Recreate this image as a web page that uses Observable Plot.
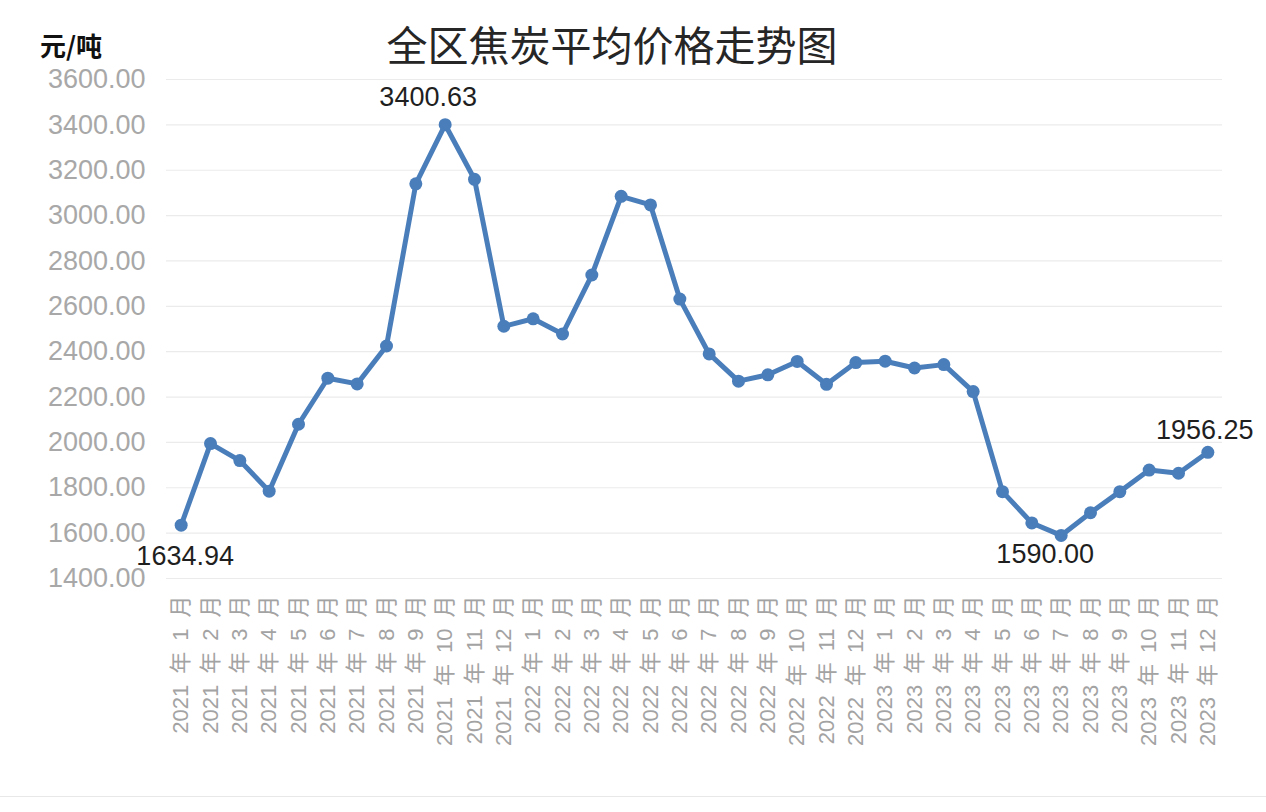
<!DOCTYPE html>
<html>
<head>
<meta charset="utf-8">
<script src="https://cdn.jsdelivr.net/npm/d3@7"></script>
<script src="https://cdn.jsdelivr.net/npm/@observablehq/plot@0.6"></script>
<style>
  html, body { margin: 0; padding: 0; background: #ffffff; }
  #wrap { position: relative; width: 1266px; height: 812px; overflow: hidden;
    font-family: "Liberation Sans", "Noto Sans CJK SC", sans-serif; }
  #title { position: absolute; left: 0; width: 1224px; top: 23px; text-align: center;
    font-size: 41px; line-height: 40px; color: #262626;
    font-family: "Noto Sans CJK SC", sans-serif; }
  #unit { position: absolute; left: 40px; top: 32px; font-size: 26px; line-height: 26px;
    font-weight: bold; color: #111; font-family: "Noto Sans CJK SC", sans-serif; }
  #chart { position: absolute; left: 0; top: 0; }
  #foot { position: absolute; left: 0; top: 796px; width: 1266px; height: 1px; background: #e8e8e8; }
</style>
</head>
<body>
<div id="wrap">
  <div id="chart"></div>
  <div id="title">全区焦炭平均价格走势图</div>
  <div id="unit">元/吨</div>
  <div id="foot"></div>
</div>
<script>
const years = ["2021", "2022", "2023"];
const months = [1, 2, 3, 4, 5, 6, 7, 8, 9, 10, 11, 12];
const prices2021 = [1634.94, 1995, 1920, 1785, 2080, 2283, 2258, 2425, 3140, 3400.63, 3160, 2512];
const prices2022 = [2545, 2478, 2738, 3085, 3047, 2632, 2390, 2270, 2298, 2357, 2256, 2352];
const prices2023 = [2358, 2328, 2343, 2224, 1783, 1645, 1590.00, 1690, 1783, 1878, 1864, 1956.25];
const yTicks = [1400, 1600, 1800, 2000, 2200, 2400, 2600, 2800, 3000, 3200, 3400, 3600];
const labelledMonths = ["2021-1", "2021-10", "2023-7", "2023-12"];

const priceByYear = [prices2021, prices2022, prices2023];
const labels = [];
const data = [];
years.forEach((y, yi) => {
  months.forEach((m, mi) => {
    const label = `${y}\u2002年\u2002${m}\u2002月`;
    labels.push(label);
    data.push({key: `${y}-${m}`, label, value: priceByYear[yi][mi]});
  });
});

const color = "#4a7ebb";
const find = k => data.filter(d => d.key === k);
const textStyle = {x: "label", y: "value", text: d => d.value.toFixed(2), fontSize: 27, fill: "#1f1f1f"};

const chart = Plot.plot({
  width: 1266,
  height: 800,
  marginLeft: 166,
  marginRight: 44,
  marginTop: 79,
  marginBottom: 222,
  style: {fontFamily: '"Liberation Sans", "Noto Sans CJK SC", sans-serif', background: "transparent"},
  x: {type: "point", domain: labels, padding: 0.5, round: false},
  y: {domain: [1400, 3600]},
  marks: [
    Plot.gridY(yTicks, {stroke: "#ebebeb", strokeOpacity: 1, strokeWidth: 1.2}),
    Plot.axisY(yTicks, {tickSize: 0, tickPadding: 21, fontSize: 27, fill: "#a8a8a8",
      tickFormat: d => d.toFixed(2), label: null}),
    Plot.axisX({tickSize: 0, tickPadding: 17, tickRotate: -90, fontSize: 22, fill: "#a3a3a3", label: null}),
    Plot.line(data, {x: "label", y: "value", stroke: color, strokeWidth: 5}),
    Plot.dot(data, {x: "label", y: "value", r: 6.5, fill: color}),
    Plot.text(find(labelledMonths[0]), {...textStyle, dx: 4, dy: 31}),
    Plot.text(find(labelledMonths[1]), {...textStyle, dx: -17, dy: -27}),
    Plot.text(find(labelledMonths[2]), {...textStyle, dx: -16, dy: 19}),
    Plot.text(find(labelledMonths[3]), {...textStyle, dx: -3, dy: -22})
  ]
});
document.getElementById("chart").appendChild(chart);
</script>
</body>
</html>
